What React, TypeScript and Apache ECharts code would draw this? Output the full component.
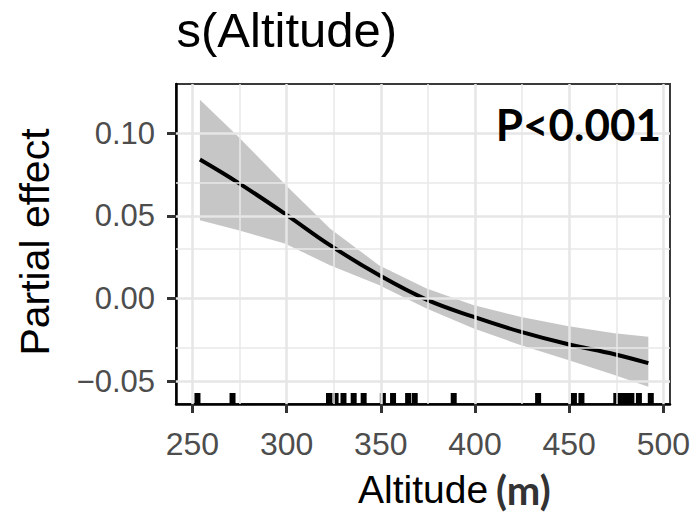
import React, { useEffect, useRef } from "react";
import * as echarts from "echarts";

// Smooth term estimate s(Altitude) with 95% band
const altitude = [254, 274, 299, 323, 349, 374, 399, 424, 449, 474, 492];
const fit = [0.0841, 0.0703, 0.0514, 0.0323, 0.0142, -0.0005, -0.011, -0.02, -0.0275, -0.0337, -0.0391];
const upper = [0.1203, 0.0983, 0.0693, 0.0424, 0.0202, 0.0062, -0.0039, -0.011, -0.0166, -0.021, -0.0231];
const lower = [0.0474, 0.0414, 0.0333, 0.0202, 0.0082, -0.0059, -0.018, -0.0281, -0.0371, -0.0462, -0.0533];
// Rug of observed altitudes
const rug = [252.7, 271.3, 322.5, 326, 330.2, 335.6, 340.9, 351.1, 356.5, 364.5, 368, 388.7, 433.5, 452.5, 456.5, 475, 477.5, 480.5, 483, 487, 493.3];
// Axis ticks
const xTicks = [250, 300, 350, 400, 450, 500];
const xMinor = [275, 325, 375, 425, 475];
const yTicks = [-0.05, 0, 0.05, 0.1];
const yMinor = [-0.025, 0.025, 0.075, 0.125];

const X_MIN = 241.3;
const X_MAX = 503.5;
const Y_MIN = -0.0638;
const Y_MAX = 0.1298;

const FONT = "'Liberation Sans', Arial, Helvetica, sans-serif";
const BOLD_FONT = "Lato, 'Open Sans', sans-serif";

export default function App() {
  const ref = useRef<HTMLDivElement>(null);

  useEffect(() => {
    if (!ref.current) return;
    const chart = echarts.init(ref.current, undefined, { renderer: "svg" });

    const major = { color: "#E6E6E6", width: 2.5, type: "solid" };
    const minor = { color: "#E9E9E9", width: 1.5, type: "solid" };
    const gridLines = [
      ...xMinor.map((v) => ({ xAxis: v, lineStyle: minor })),
      ...yMinor.map((v) => ({ yAxis: v, lineStyle: minor })),
      ...xTicks.map((v) => ({ xAxis: v, lineStyle: major })),
      ...yTicks.map((v) => ({ yAxis: v, lineStyle: major })),
    ];

    const option: any = {
      animation: false,
      backgroundColor: "#ffffff",
      grid: {
        left: 176,
        top: 84,
        width: 494,
        height: 320,
        show: true,
        borderColor: "#3a3a3a",
        borderWidth: 2,
        backgroundColor: "transparent",
        containLabel: false,
        outerBoundsMode: "none",
      },
      xAxis: {
        type: "value",
        min: X_MIN,
        max: X_MAX,
        axisLine: { show: true, onZero: false, lineStyle: { color: "#000", width: 2.5 } },
        axisTick: { show: true, customValues: xTicks, length: 9, lineStyle: { color: "#333", width: 3 } },
        axisLabel: {
          customValues: xTicks,
          fontSize: 32,
          color: "#4D4D4D",
          fontFamily: FONT,
          margin: 24,
          formatter: (v: number) => String(v),
        },
        splitLine: { show: false },
      },
      yAxis: {
        type: "value",
        min: Y_MIN,
        max: Y_MAX,
        axisLine: { show: true, onZero: false, lineStyle: { color: "#000", width: 2.5 } },
        axisTick: { show: true, customValues: yTicks, length: 9, lineStyle: { color: "#333", width: 3 } },
        axisLabel: {
          customValues: yTicks,
          fontSize: 31,
          color: "#4D4D4D",
          fontFamily: FONT,
          margin: 21,
          formatter: (v: number) => (v < 0 ? "\u2212" + Math.abs(v).toFixed(2) : v.toFixed(2)),
        },
        splitLine: { show: false },
      },
      series: [
        {
          type: "line",
          name: "grid",
          z: 1,
          data: altitude.map((a, i) => [a, fit[i]]),
          showSymbol: false,
          lineStyle: { opacity: 0 },
          silent: true,
          markLine: {
            silent: true,
            symbol: ["none", "none"],
            label: { show: false },
            data: gridLines,
          },
        },
        {
          type: "custom",
          name: "band",
          z: 2,
          silent: true,
          data: [[altitude[0], upper[0]]],
          renderItem: (_params: any, api: any) => {
            const pts: number[][] = [];
            altitude.forEach((a, i) => pts.push(api.coord([a, upper[i]])));
            for (let i = altitude.length - 1; i >= 0; i--) pts.push(api.coord([altitude[i], lower[i]]));
            return {
              type: "polygon",
              shape: { points: pts },
              style: { fill: "rgba(120,120,120,0.42)", stroke: "none" },
            };
          },
        },
        {
          type: "line",
          name: "fit",
          z: 3,
          data: altitude.map((a, i) => [a, fit[i]]),
          smooth: 0.4,
          showSymbol: false,
          lineStyle: { color: "#000", width: 4 },
        },
        {
          type: "custom",
          name: "rug",
          z: 4,
          silent: true,
          clip: false,
          data: rug.map((v) => [v, Y_MIN]),
          renderItem: (_params: any, api: any) => {
            const c = api.coord([api.value(0), api.value(1)]);
            return {
              type: "rect",
              shape: { x: c[0] - 3, y: c[1] - 11, width: 6, height: 11 },
              style: { fill: "#000" },
            };
          },
        },
      ],
      graphic: [
        {
          type: "text",
          x: 176.5,
          y: 29.5,
          z: 100,
          style: {
            text: "s(Altitude)",
            font: `49px ${FONT}`,
            fill: "#000",
            textAlign: "left",
            textVerticalAlign: "middle",
          },
        },
        {
          type: "text",
          x: 661,
          y: 123.5,
          z: 100,
          style: {
            text: "P<0.001",
            font: `bold 44px ${BOLD_FONT}`,
            fill: "#000",
            textAlign: "right",
            textVerticalAlign: "middle",
          },
        },
        {
          type: "text",
          x: 35,
          y: 242,
          z: 100,
          rotation: Math.PI / 2,
          style: {
            text: "Partial effect",
            font: `41px ${FONT}`,
            fill: "#000",
            textAlign: "center",
            textVerticalAlign: "middle",
          },
        },
        {
          type: "text",
          x: 358,
          y: 489,
          z: 100,
          style: {
            text: "Altitude",
            font: `39px ${FONT}`,
            fill: "#000",
            textAlign: "left",
            textVerticalAlign: "middle",
          },
        },
        {
          type: "text",
          x: 496,
          y: 490,
          z: 100,
          style: {
            text: "(m)",
            font: `bold 40px ${BOLD_FONT}`,
            fill: "#333",
            textAlign: "left",
            textVerticalAlign: "middle",
          },
        },
      ],
    };

    chart.setOption(option);
    return () => chart.dispose();
  }, []);

  return (
    <div
      ref={ref}
      style={{ position: "fixed", left: 0, top: 0, width: 697, height: 515, background: "#fff" }}
    />
  );
}
